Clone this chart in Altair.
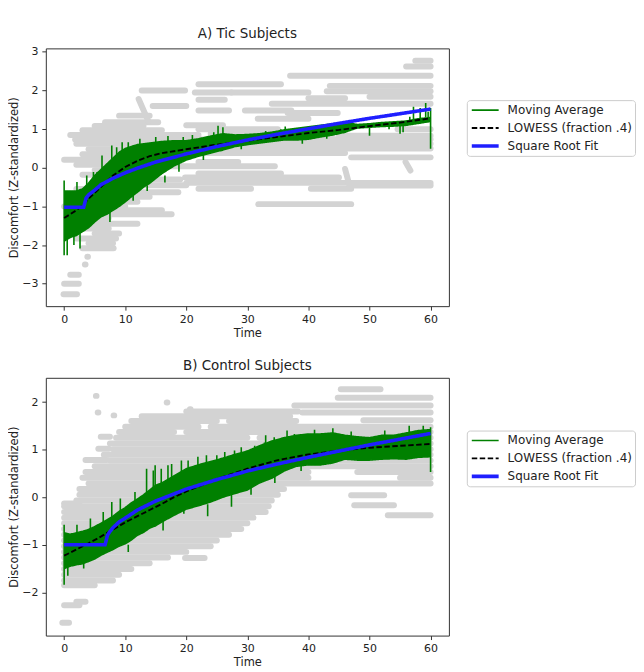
import altair as alt
import pandas as pd

FONT = "DejaVu Sans"
TXT = "#222222"

series_names = ["Moving Average", "LOWESS (fraction .4)", "Square Root Fit"]
series_colors = ["#008000", "#000000", "#1f1fff"]
series_dash = [[1, 0], [5.5, 2.5], [1, 0]]
width_range = [1.6, 3.6]   # thin lines ... thick fit line

x_ticks = [0, 10, 20, 30, 40, 50, 60]

# ---------------- Panel A: Tic subjects ----------------
a_title = "A) Tic Subjects"
a_ydomain = [-3.58, 3.09]
a_yticks = [-3, -2, -1, 0, 1, 2, 3]

# grey individual ratings, read as streaks: (x0, x1, y0, y1)
a_grey = [
    (57.5, 60, 2.77, 2.77), (56, 60, 2.62, 2.62), (37, 60, 2.38, 2.38),
    (22, 35.5, 2.16, 2.16), (43.5, 60, 2.12, 2.12), (12.7, 19.8, 2.0, 2.0),
    (21.4, 27.4, 1.95, 1.95), (27.4, 40, 1.95, 1.95), (43, 60, 1.98, 1.98),
    (50, 60, 1.84, 1.84), (22, 26.3, 1.76, 1.76), (40, 46, 1.8, 1.8),
    (34, 60, 1.66, 1.66), (14.5, 20, 1.6, 1.6), (22, 27, 1.48, 1.48),
    (29.6, 37.2, 1.48, 1.48), (36.6, 44.8, 1.42, 1.42), (9, 14, 1.35, 1.35),
    (31.7, 40, 1.27, 1.27), (6.7, 15.4, 1.18, 1.18), (12.2, 13.8, 1.78, 1.2),
    (20, 26, 1.1, 1.1), (5, 13, 1.08, 1.08), (3, 16, 0.97, 0.97),
    (22, 35, 1.0, 1.0), (54.6, 60, 1.0, 1.0), (1, 22, 0.85, 0.85),
    (24, 44, 0.88, 0.88), (45, 60, 0.83, 0.83), (1.8, 25, 0.73, 0.73),
    (28, 60, 0.74, 0.74), (2, 60, 0.62, 0.62), (4, 22, 0.48, 0.48),
    (22, 60, 0.5, 0.5), (3, 20, 0.35, 0.35), (22, 46, 0.38, 0.38),
    (47, 60, 0.27, 0.27), (0, 18, 0.21, 0.21), (22, 28.5, 0.15, 0.15),
    (2, 14, 0.08, 0.08), (14.9, 34.5, 0.04, 0.04), (5, 15, -0.06, -0.06),
    (22, 35.5, -0.15, -0.15), (3, 12, -0.18, -0.18), (19.8, 45, -0.25, -0.25),
    (6, 19, -0.3, -0.3), (20, 60, -0.39, -0.39), (8, 20, -0.45, -0.45),
    (22, 30.6, -0.54, -0.54), (40.4, 47, -0.54, -0.54), (47, 60, -0.46, -0.46),
    (46, 46.8, -0.03, -0.5), (55.9, 56.7, 0.15, -0.07), (2, 9, -0.55, -0.55),
    (6.7, 18.7, -0.63, -0.63), (4, 14, -0.75, -0.75), (3, 12, -0.88, -0.88),
    (31.8, 47, -0.94, -0.94), (0, 10, -1.0, -1.0), (2, 16, -1.1, -1.1),
    (5.6, 17.6, -1.2, -1.2), (2, 7.3, -1.3, -1.3), (4, 12, -1.45, -1.45),
    (1.5, 7.3, -1.57, -1.57), (5, 9, -1.7, -1.7), (2, 8.5, -1.83, -1.83),
    (4, 8, -1.95, -1.95), (3, 8.1, -2.08, -2.08), (3.8, 3.9, -2.3, -2.3),
    (3.4, 3.5, -2.5, -2.5), (1, 2.4, -2.77, -2.77), (0, 2.4, -3.0, -3.0),
    (-0.1, 2.1, -3.27, -3.27),
]

# moving average: core envelope (time, low, high) and narrow spikes (time, from, to)
a_ma_t = [0, 1, 2, 3, 4, 5, 6, 7, 8, 9, 10, 11, 12, 13, 14, 16, 18, 20, 22, 24,
          26, 28, 30, 32, 34, 36, 38, 40, 42, 44, 46, 47, 48, 50, 52, 54, 56, 58, 60]
a_ma_lo = [-1.9, -1.8, -1.75, -1.65, -1.55, -1.4, -1.27, -1.2, -1.1, -1.0, -0.88,
           -0.75, -0.63, -0.5, -0.4, -0.15, 0.05, 0.2, 0.3, 0.38, 0.46, 0.55, 0.6,
           0.64, 0.68, 0.72, 0.72, 0.74, 0.8, 0.85, 0.92, 0.98, 1.03, 1.05, 1.07,
           1.08, 1.1, 1.15, 1.2]
a_ma_hi = [-0.6, -0.6, -0.6, -0.55, -0.4, -0.2, -0.05, 0.1, 0.25, 0.4, 0.5, 0.55,
           0.6, 0.62, 0.64, 0.68, 0.7, 0.7, 0.75, 0.82, 0.88, 0.85, 0.86, 0.88,
           0.92, 0.98, 1.02, 1.06, 1.1, 1.14, 1.17, 1.15, 1.12, 1.14, 1.17, 1.19,
           1.21, 1.27, 1.3]
a_spikes = [
    (0, -2.26, -0.33), (0.5, -2.26, -1.6), (1.6, -2.0, -1.6), (2.1, -0.6, -0.37),
    (2.6, -2.09, -1.6), (3.7, -0.55, -0.2), (4.8, -0.4, -0.11), (5.4, -0.3, -0.11),
    (6.2, -0.1, 0.32), (7.5, -1.4, -1.1), (7.8, 0.1, 0.58), (8.6, 0.2, 0.53),
    (9.5, 0.4, 0.66), (10.5, 0.45, 0.66), (11.3, -0.85, -0.6), (12.4, 0.55, 0.75),
    (15, 0.6, 0.8), (17, 0.6, 0.82), (19.5, 0.6, 0.8), (21, 0.6, 0.85),
    (24.5, 0.8, 0.92), (25.2, 0.7, 1.09), (26, 0.8, 1.05), (33, 0.8, 0.95),
    (35.5, 0.9, 1.0), (36.2, 0.9, 1.07), (43, 0.75, 0.95), (50, 1.1, 0.83),
    (53.2, 1.1, 1.0), (55, 1.1, 0.88), (55.5, 1.15, 0.92), (56.6, 1.2, 1.32),
    (57.2, 1.25, 1.58), (58.3, 1.25, 1.55), (59.2, 1.3, 1.68), (59.6, 1.3, 1.45),
    (60, 1.55, 0.49), (13.6, -0.45, -0.6), (16.5, -0.2, -0.38), (18.8, 0.1, -0.1),
    (22.8, 0.35, 0.2), (29, 0.6, 0.48), (39, 0.75, 0.62),
]

a_lw_t = [0, 2, 3, 4, 6, 8, 10, 12, 14, 16, 20, 25, 30, 35, 40, 45, 50, 55, 60]
a_lw_y = [-1.3, -1.1, -0.97, -0.8, -0.5, -0.2, 0.02, 0.18, 0.3, 0.38, 0.48, 0.6,
          0.7, 0.8, 0.9, 0.98, 1.08, 1.17, 1.28]

a_sq_t = [0, 3.2, 3.6, 4, 5, 6, 8, 10, 12, 15, 20, 25, 30, 35, 40, 45, 50, 55, 60]
a_sq_y = [-1.02, -1.02, -0.78, -0.7, -0.58, -0.44, -0.27, -0.13, -0.01, 0.15,
          0.36, 0.55, 0.72, 0.87, 1.01, 1.15, 1.28, 1.4, 1.52]

# ---------------- Panel B: Control subjects ----------------
b_title = "B) Control Subjects"
b_ydomain = [-2.91, 2.51]
b_yticks = [-2, -1, 0, 1, 2]

b_grey = [
    (45.3, 51.8, 2.27, 2.27), (5.2, 5.3, 2.13, 2.13), (44.8, 60, 2.09, 2.09),
    (16.8, 16.9, 1.99, 1.99), (37.7, 60, 1.93, 1.93), (20.6, 20.7, 1.85, 1.85),
    (20, 38.3, 1.8, 1.8), (5.5, 5.6, 1.78, 1.78), (8.1, 8.2, 1.72, 1.72),
    (12.7, 37, 1.7, 1.7), (39, 60, 1.78, 1.78), (11, 25, 1.6, 1.6),
    (27, 38, 1.6, 1.6), (49, 60, 1.62, 1.62), (10, 22, 1.48, 1.48),
    (24, 60, 1.48, 1.48), (9, 18, 1.37, 1.37), (20, 60, 1.37, 1.37),
    (6, 7.5, 1.27, 1.27), (8.5, 30, 1.25, 1.25), (32, 60, 1.25, 1.25),
    (7.5, 60, 1.13, 1.13), (5.6, 7.3, 1.02, 1.02), (8, 42, 1.01, 1.01),
    (44, 60, 1.01, 1.01), (6.5, 60, 0.89, 0.89), (3.5, 7, 0.78, 0.78),
    (7.5, 60, 0.77, 0.77), (5, 35, 0.65, 0.65), (37, 60, 0.65, 0.65),
    (3.5, 40, 0.53, 0.53), (48, 60, 0.53, 0.53), (3, 40, 0.41, 0.41),
    (55, 60, 0.41, 0.41), (4, 60, 0.29, 0.29), (2.5, 36, 0.17, 0.17),
    (2.5, 35, 0.05, 0.05), (47, 52.4, 0.04, 0.04), (2, 34, -0.07, -0.07),
    (0, 2.5, -0.13, -0.13), (0, 33.5, -0.19, -0.19), (47.5, 54, -0.17, -0.17),
    (0, 33, -0.31, -0.31), (53, 60, -0.38, -0.38), (0, 31, -0.43, -0.43),
    (0, 30, -0.55, -0.55), (0, 29, -0.67, -0.67), (0, 27, -0.79, -0.79),
    (0, 25, -0.91, -0.91), (0, 24, -1.03, -1.03), (0, 20, -1.15, -1.15),
    (0, 17, -1.27, -1.27), (19.8, 23, -1.28, -1.28), (0, 14, -1.39, -1.39),
    (0, 11, -1.51, -1.51), (0, 9, -1.63, -1.63), (0, 8, -1.75, -1.75),
    (0, 5, -1.85, -1.85), (2, 3.5, -2.2, -2.2), (0, 2.5, -2.27, -2.27),
    (-0.3, 0.8, -2.64, -2.64),
]

b_ma_t = [0, 1, 2, 3, 4, 5, 6, 7, 8, 9, 10, 11, 12, 13, 14, 15, 16, 18, 20, 22,
          24, 26, 28, 30, 32, 34, 36, 38, 40, 42, 44, 46, 48, 50, 52, 54, 56, 58, 60]
b_ma_lo = [-1.5, -1.45, -1.42, -1.4, -1.35, -1.3, -1.22, -1.16, -1.1, -1.03, -0.98,
           -0.9, -0.8, -0.74, -0.65, -0.6, -0.52, -0.38, -0.25, -0.18, -0.1, 0.0,
           0.08, 0.15, 0.3, 0.4, 0.55, 0.65, 0.68, 0.68, 0.72, 0.8, 0.78, 0.78,
           0.8, 0.81, 0.8, 0.84, 0.85]
b_ma_hi = [-0.75, -0.78, -0.75, -0.72, -0.68, -0.62, -0.55, -0.48, -0.4, -0.3,
           -0.22, -0.12, -0.04, 0.05, 0.15, 0.25, 0.3, 0.45, 0.6, 0.68, 0.75, 0.82,
           0.9, 0.97, 1.08, 1.18, 1.25, 1.3, 1.33, 1.33, 1.35, 1.3, 1.27, 1.25,
           1.3, 1.3, 1.35, 1.4, 1.42]
b_spikes = [
    (0, -1.84, -0.58), (0.6, -1.65, -1.4), (2.1, -0.75, -0.58), (3.2, -1.5, -1.3),
    (4.3, -0.68, -0.45), (6.4, -0.55, -0.31), (7.8, -0.45, -0.1), (9.2, -0.3, -0.03),
    (10.5, -1.0, -1.15), (11.6, -0.1, 0.11), (13.5, 0.1, 0.6), (14.6, 0.2, 0.56),
    (16.2, -0.5, -0.7), (17, 0.35, 0.67), (19.2, 0.5, 0.77), (21.9, 0.6, 0.85),
    (23.5, -0.15, -0.4), (25, 0.7, 0.88), (27.4, 0.05, -0.2), (29, 0.85, 1.05),
    (33, 1.1, 1.3), (34.5, 0.5, 0.3), (36.5, 1.2, 1.4), (41, 1.3, 1.42),
    (44, 1.3, 1.45), (47, 1.25, 1.38), (52.5, 1.28, 1.4), (56.5, 1.3, 1.5),
    (58.8, 1.35, 1.5), (60, 0.53, 1.47), (14.9, 0.2, 0.67), (15.9, 0.3, 0.6),
    (17.6, 0.35, 0.7), (20.3, 0.55, 0.77), (23.3, 0.7, 0.88), (26.3, 0.8, 0.95),
    (27.9, 0.85, 0.98), (31.2, 1.0, 1.08), (32.8, 1.05, 1.15), (34.4, 1.15, 1.26),
    (37.7, 1.25, 1.33), (19.6, -0.2, -0.35), (30.6, 0.2, 0.05), (38.8, 0.7, 0.55),
]

b_lw_t = [0, 2, 4, 6, 8, 10, 12, 14, 16, 18, 20, 25, 30, 35, 40, 45, 50, 55, 60]
b_lw_y = [-1.23, -1.1, -0.97, -0.83, -0.68, -0.53, -0.4, -0.27, -0.14, 0.0, 0.12,
          0.38, 0.6, 0.78, 0.9, 0.98, 1.04, 1.08, 1.12]

b_sq_t = [0, 6.7, 7.1, 7.5, 8, 9, 10, 12, 15, 20, 25, 30, 35, 40, 45, 50, 55, 60]
b_sq_y = [-1.0, -1.0, -0.8, -0.72, -0.64, -0.52, -0.44, -0.27, -0.08, 0.17, 0.37,
          0.55, 0.7, 0.84, 0.97, 1.1, 1.22, 1.34]

# Shared (padded) series domain: placeholder slots make the point scale for
# stroke width give thin lines for the first two series and a thick fit line.
pad_slots = ["~1", "~2", "~3", "~4", "~5"]
full_domain = series_names[:2] + pad_slots + series_names[2:]
full_colors = series_colors[:2] + ["#ffffff"] * len(pad_slots) + series_colors[2:]
full_dash = series_dash[:2] + [[1, 0]] * len(pad_slots) + series_dash[2:]


def panel(title, ydomain, yticks, legend_y, grey, ma_t, ma_lo, ma_hi, spikes,
          lw_t, lw_y, sq_t, sq_y):
    xs = alt.Scale(domain=[-3, 63], nice=False, zero=False)
    ys = alt.Scale(domain=ydomain, nice=False, zero=False)
    xaxis = alt.Axis(title="Time", values=x_ticks, grid=False, domain=False,
                     tickSize=4, labelPadding=3, titlePadding=3)
    yaxis = alt.Axis(title="Discomfort (Z-standardized)", values=yticks, grid=False,
                     domain=False, tickSize=4, labelPadding=4, titlePadding=2,
                     labelExpr="replace(datum.label, '-', '\u2212')")

    def X(f):
        return alt.X(f, type="quantitative", scale=xs, axis=xaxis)

    def Y(f):
        return alt.Y(f, type="quantitative", scale=ys, axis=yaxis)

    leg = alt.Legend(title=None, orient="none", legendX=423, legendY=legend_y,
                     values=series_names, strokeColor="#cccccc", fillColor="white",
                     padding=3, cornerRadius=3, labelFont=FONT, labelFontSize=12,
                     labelColor=TXT, symbolType="stroke", symbolSize=729,
                     clipHeight=14, rowPadding=4, labelOffset=7)
    col = alt.Color("series:N", scale=alt.Scale(domain=full_domain, range=full_colors), legend=leg)
    dash = alt.StrokeDash("series:N", scale=alt.Scale(domain=full_domain, range=full_dash), legend=leg)
    wid = alt.StrokeWidth("series:N", scale=alt.Scale(type="point", domain=full_domain, range=width_range), legend=leg)

    gdf = pd.DataFrame(grey, columns=["x0", "x1", "y0", "y1"])
    g = alt.Chart(gdf).mark_rule(color="#d3d3d3", strokeWidth=6, strokeCap="round", clip=True).encode(
        x=X("x0"), x2="x1", y=Y("y0"), y2="y1")

    band_df = pd.DataFrame({"t": ma_t, "lo": ma_lo, "hi": ma_hi})
    band = alt.Chart(band_df).mark_area(color="#008000", clip=True).encode(
        x=X("t"), y=Y("lo"), y2="hi")

    sp_df = pd.DataFrame(spikes, columns=["t", "y0", "y1"])
    sp = alt.Chart(sp_df).mark_rule(color="#008000", strokeWidth=1.6, clip=True).encode(
        x=X("t"), y=Y("y0"), y2="y1")

    edge_rows = []
    for t, lo, hi in zip(ma_t, ma_lo, ma_hi):
        edge_rows.append({"series": series_names[0], "edge": "lo", "t": t, "y": lo})
        edge_rows.append({"series": series_names[0], "edge": "hi", "t": t, "y": hi})
    ma = alt.Chart(pd.DataFrame(edge_rows)).mark_line(clip=True).encode(
        x=X("t"), y=Y("y"), detail="edge:N", color=col, strokeDash=dash, strokeWidth=wid)

    lw_df = pd.DataFrame({"series": series_names[1], "t": lw_t, "y": lw_y})
    lw = alt.Chart(lw_df).mark_line(clip=True).encode(
        x=X("t"), y=Y("y"), color=col, strokeDash=dash, strokeWidth=wid)

    sq_df = pd.DataFrame({"series": series_names[2], "t": sq_t, "y": sq_y})
    sq = alt.Chart(sq_df).mark_line(clip=True).encode(
        x=X("t"), y=Y("y"), color=col, strokeDash=dash, strokeWidth=wid)

    return alt.layer(g, band, sp, ma, lw, sq).properties(
        width=405, height=259,
        title=alt.Title(title, font=FONT, fontSize=13.5, fontWeight="normal",
                        color=TXT, offset=5, anchor="middle"))


pa = panel(a_title, a_ydomain, a_yticks, 52, a_grey, a_ma_t, a_ma_lo, a_ma_hi,
           a_spikes, a_lw_t, a_lw_y, a_sq_t, a_sq_y)
pb = panel(b_title, b_ydomain, b_yticks, 53, b_grey, b_ma_t, b_ma_lo, b_ma_hi,
           b_spikes, b_lw_t, b_lw_y, b_sq_t, b_sq_y)

chart = alt.vconcat(pa, pb, spacing=20).resolve_scale(
    x="independent", y="independent", color="independent",
    strokeDash="independent", strokeWidth="independent"
).resolve_legend(
    color="independent", strokeDash="independent", strokeWidth="independent"
).resolve_axis(x="independent", y="independent").properties(
    padding={"left": 0, "top": 17, "right": 0, "bottom": 0},
    background="white",
).configure_view(stroke="#333333", strokeWidth=1).configure_axis(
    labelFont=FONT, labelFontSize=11, labelColor=TXT, titleFont=FONT,
    titleFontSize=11.5, titleFontWeight="normal", titleColor=TXT,
    tickColor="#333333")

chart.save("out.html", embed_options={"renderer": "svg", "actions": False})
